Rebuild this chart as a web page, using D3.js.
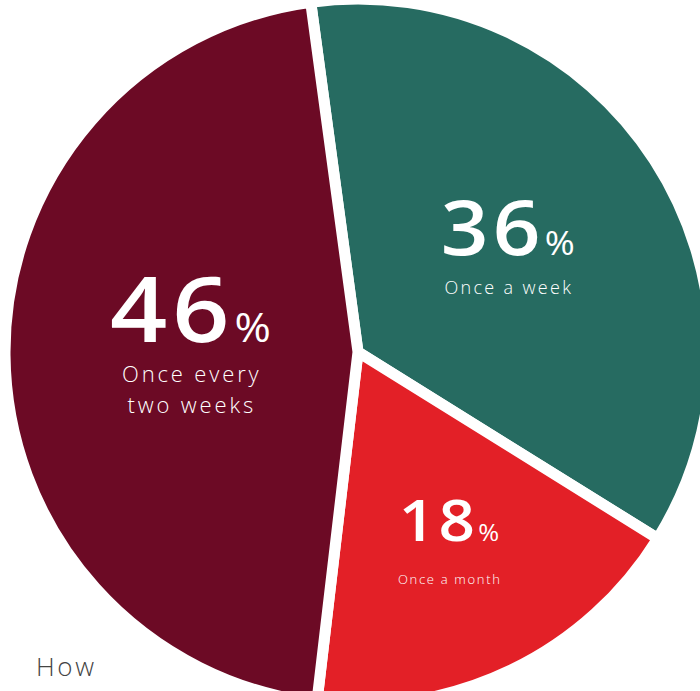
<!DOCTYPE html>
<html>
<head>
<meta charset="utf-8">
<script src="https://cdn.jsdelivr.net/npm/d3@7"></script>
<style>
  html, body { margin: 0; padding: 0; background: #ffffff; overflow: hidden; }
  svg { display: block; }
  text { font-family: "Open Sans", "Noto Sans", sans-serif; fill: #ffffff; }
</style>
</head>
<body>
<svg id="chart" width="700" height="691"></svg>
<script>
// data
var categories = ["Once a week", "Once a month", "Once every two weeks"];
var values = [36, 18, 46];
var label_lines = [["Once a week"], ["Once a month"], ["Once every", "two weeks"]];
var colors = ["#266b61", "#e32027", "#6c0a25"];

// layout
var width = 700;
var height = 691;
var cx = 358;
var cy = 352;
var radius = 353;
var gap = 11;
var start_angle = -7.7 * Math.PI / 180;
var num_stretch = 1.1;

// per slice text styling: radial position of number baseline and sizes
var text_style = [
  {r: 0.505, dy: 0, num: 76, pct: 33, label: 18, first: 39, line: 31},
  {r: 0.594, dy: 0, num: 58, pct: 23, label: 13, first: 43, line: 20},
  {r: 0.475, dy: -11, num: 91, pct: 40, label: 22, first: 40, line: 31}
];

window.addEventListener('load', function ()
{
  draw_chart();
});

function draw_chart()
{
  let svg = d3.select('#chart');

  let pie = d3.pie()
    .sort(null)
    .value(function(d){return d;})
    .startAngle(start_angle)
    .endAngle(start_angle + 2 * Math.PI);

  let arcs = pie(values);

  let arc = d3.arc()
    .innerRadius(0)
    .outerRadius(radius);

  let g = svg.append('g')
    .attr('transform', 'translate(' + cx + ',' + cy + ')');

  g.selectAll('.slice')
    .data(arcs)
    .enter()
    .append('path')
      .attr('class', 'slice')
      .attr('d', arc)
      .style('fill', function(d, i){return colors[i];})
      .style('stroke', '#ffffff')
      .style('stroke-width', gap)
      .style('stroke-linejoin', 'miter');

  // labels
  let labels = g.selectAll('.slice-label')
    .data(arcs)
    .enter()
    .append('g')
      .attr('class', 'slice-label')
      .attr('transform', function(d, i)
      {
        let s = text_style[i];
        let la = d3.arc().innerRadius(0).outerRadius(2 * radius * s.r);
        let c = la.centroid(d);
        return 'translate(' + c[0] + ',' + (c[1] + s.dy) + ')';
      });

  // big percentage, stretched a bit to get the wide geometric look
  let num = labels.append('text')
    .attr('text-anchor', 'middle')
    .attr('transform', 'scale(' + num_stretch + ',1)')
    .attr('y', 0);

  num.append('tspan')
    .style('font-size', function(d, i){return text_style[i].num + 'px';})
    .style('font-weight', 600)
    .style('letter-spacing', '0.05em')
    .text(function(d){return d.data;});

  num.append('tspan')
    .style('font-size', function(d, i){return text_style[i].pct + 'px';})
    .style('font-weight', 500)
    .text('%');

  labels.each(function(d, i)
  {
    let s = text_style[i];
    let node = d3.select(this);
    label_lines[i].forEach(function(line, j)
    {
      node.append('text')
        .attr('text-anchor', 'middle')
        .attr('x', s.label * 0.065)
        .attr('y', s.first + j * s.line)
        .style('font-size', s.label + 'px')
        .style('font-weight', 300)
        .style('letter-spacing', '0.13em')
        .text(line);
    });
  });

  // caption cut off at the bottom
  svg.append('text')
    .attr('x', 36)
    .attr('y', 676)
    .style('fill', '#444444')
    .style('font-size', '26px')
    .style('font-weight', 300)
    .style('letter-spacing', '0.1em')
    .text('How');
}
</script>
</body>
</html>
